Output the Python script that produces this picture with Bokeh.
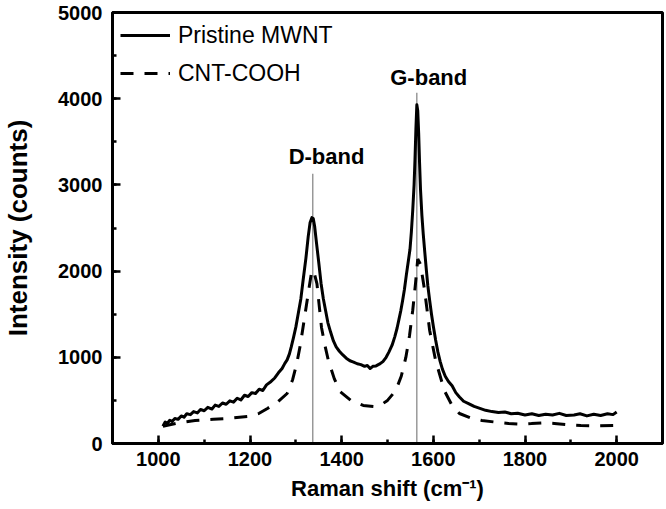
from bokeh.plotting import figure
from bokeh.models import SingleIntervalTicker, Label, Legend, LegendItem, Range1d
from bokeh.embed import file_html
from bokeh.resources import INLINE

# ---- data ----
pristine_x = [1010,1015,1020,1025,1030,1036,1043,1050,1056,1062,
              1070,1077,1085,1092,1100,1108,1117,1124,1132,1140,
              1148,1156,1164,1172,1180,1188,1196,1204,1212,1220,
              1228,1236,1246,1254,1262,1270,1276,1281,1286,1290,
              1295,1300,1305,1311,1316,1322,1327,1331,1335,1338,
              1341,1345,1350,1355,1360,1365,1370,1376,1382,1388,
              1395,1402,1410,1418,1426,1434,1442,1450,1456,1462,
              1468,1475,1482,1490,1497,1503,1510,1516,1521,1525,
              1529,1533,1537,1541,1545,1549,1552,1555,1558,1560,
              1562,1564,1566,1568,1570,1572,1575,1578,1581,1585,
              1588,1592,1596,1600,1605,1610,1615,1620,1626,1633,
              1641,1649,1657,1666,1678,1689,1700,1714,1728,1742,
              1756,1770,1784,1800,1815,1830,1845,1860,1875,1890,
              1907,1920,1935,1950,1965,1980,1992,2000]
pristine_y = [200,250,235,270,255,290,280,320,305,345,
              335,370,355,395,380,420,400,445,430,470,
              455,495,480,525,505,560,545,590,580,630,
              615,680,720,760,820,870,930,970,1040,1120,
              1230,1350,1500,1680,1900,2150,2400,2560,2620,2610,
              2520,2330,2100,1860,1680,1540,1400,1290,1190,1120,
              1070,1030,990,960,945,925,915,895,905,870,
              895,900,920,950,1000,1060,1140,1240,1340,1440,
              1540,1660,1790,1950,2100,2250,2450,2700,3000,3300,
              3650,3930,3860,3600,3250,2950,2650,2430,2240,2000,
              1830,1660,1500,1360,1200,1060,950,860,780,720,
              670,590,540,490,460,430,410,385,370,360,
              365,345,350,330,345,325,340,330,350,325,
              330,345,320,340,325,345,335,365]

cooh_x = [1010,1040,1080,1120,1151,1194,1220,1238,1260,1281,
          1293,1302,1310,1317,1323,1328,1335,1340,1346,1351,
          1356,1363,1371,1384,1397,1420,1447,1470,1484,1500,
          1518,1530,1540,1548,1555,1561,1566,1572,1581,1592,
          1605,1615,1624,1640,1657,1680,1706,1740,1764,1790,
          1814,1840,1864,1900,1922,1960,2000]
cooh_y = [200,235,267,280,290,313,350,406,480,580,
          740,928,1150,1392,1600,1775,2010,1980,1856,1600,
          1346,1150,963,750,600,500,441,430,441,500,
          615,780,998,1250,1543,1850,2140,2080,1775,1311,
          963,780,615,450,348,300,267,245,232,225,
          232,240,232,215,209,205,210]

series_names = ["Pristine MWNT", "CNT-COOH"]
band_names = ["D-band", "G-band"]
band_x = [1337, 1564]
band_top = [3130, 4070]
band_label_x = [1367, 1590]
band_label_y = [3330, 4250]

x_title = "Raman shift (cm\u207b\u00b9)"
y_title = "Intensity (counts)"

FONT = "Liberation Sans"

p = figure(width=666, height=509,
           x_range=Range1d(900, 2100), y_range=Range1d(0, 5000),
           output_backend="svg", toolbar_location=None,
           min_border_left=108, min_border_right=4,
           min_border_top=12, min_border_bottom=66)

p.xgrid.visible = False
p.ygrid.visible = False
p.outline_line_color = "black"
p.outline_line_width = 3
p.outline_line_alpha = 1.0
p.background_fill_color = "white"
p.border_fill_color = "white"

p.xaxis.ticker = SingleIntervalTicker(interval=200, num_minor_ticks=2)
p.yaxis.ticker = SingleIntervalTicker(interval=1000, num_minor_ticks=2)

for ax in (p.xaxis[0], p.yaxis[0]):
    ax.axis_line_width = 3
    ax.axis_line_color = "black"
    ax.major_tick_in = 8
    ax.major_tick_out = 0
    ax.minor_tick_in = 4
    ax.minor_tick_out = 0
    ax.major_tick_line_width = 2.5
    ax.minor_tick_line_width = 2.5
    ax.major_tick_line_color = "black"
    ax.minor_tick_line_color = "black"
    ax.major_label_text_font = FONT
    ax.major_label_text_font_style = "bold"
    ax.major_label_text_font_size = "20px"
    ax.major_label_text_color = "black"
    ax.axis_label_text_font = FONT
    ax.axis_label_text_font_style = "bold"
    ax.axis_label_text_color = "black"

p.xaxis.major_label_standoff = 8
p.yaxis.major_label_standoff = 10

p.xaxis.axis_label = x_title
p.xaxis.axis_label_text_font_size = "22px"
p.xaxis.axis_label_standoff = 7

p.yaxis.axis_label = y_title
p.yaxis.axis_label_text_font_size = "26px"
p.yaxis.axis_label_standoff = 22

# band marker lines
p.segment(x0=band_x, y0=[0, 0], x1=band_x, y1=band_top,
          line_color="#808080", line_width=1.2)

r1 = p.line(pristine_x, pristine_y, line_color="black", line_width=3,
            line_join="round")
r2 = p.line(cooh_x, cooh_y, line_color="black", line_width=3,
            line_dash="13 11")

legend = Legend(items=[LegendItem(label=series_names[0], renderers=[r1]),
                       LegendItem(label=series_names[1], renderers=[r2])],
                location="top_left")
legend.margin = 0
legend.padding = 8
legend.spacing = 8
legend.glyph_width = 50
legend.glyph_height = 30
legend.label_height = 30
legend.label_standoff = 8
legend.label_text_font = FONT
legend.label_text_font_size = "23px"
legend.label_text_color = "black"
legend.background_fill_alpha = 0
legend.border_line_alpha = 0
p.add_layout(legend)

for name, lx, ly in zip(band_names, band_label_x, band_label_y):
    p.add_layout(Label(x=lx, y=ly, text=name, text_align="center",
                       text_baseline="middle", text_font=FONT,
                       text_font_style="bold", text_font_size="22px",
                       text_color="black"))

open("out.html", "w").write(file_html(p, INLINE))
